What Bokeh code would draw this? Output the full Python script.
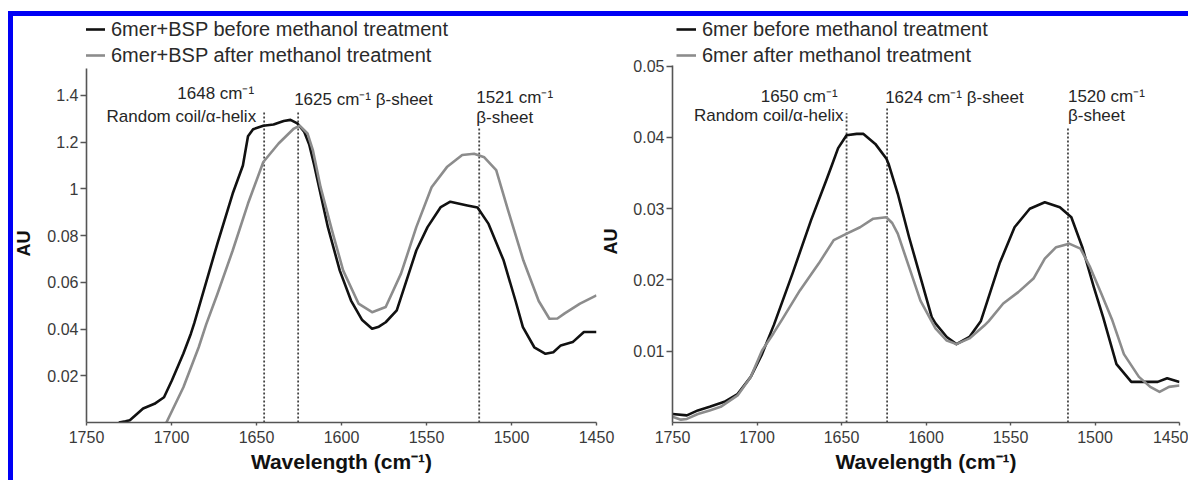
from bokeh.plotting import figure
from bokeh.models import Range1d, FixedTicker, Legend, LegendItem, Label, Div, Spacer, Title
from bokeh.layouts import row, column
from bokeh.embed import file_html
from bokeh.resources import INLINE

# ---------------- data ----------------
x_ticks = [1750, 1700, 1650, 1600, 1550, 1500, 1450]

# left panel: 6mer+BSP
left_ytick_values = [0.02, 0.04, 0.06, 0.08, 0.10, 0.12, 0.14]
left_ytick_labels = ["0.02", "0.04", "0.06", "0.08", "1", "1.2", "1.4"]

left_black_wn = [1731, 1727, 1724.5, 1716.7, 1710, 1704.4, 1699.8, 1693, 1688.6, 1686.6, 1673, 1664,
                 1658, 1655, 1652, 1646, 1640, 1634, 1630, 1626, 1622, 1619, 1616, 1614.5, 1608, 1601,
                 1594.4, 1588, 1582, 1578, 1574, 1567.5, 1556, 1549.4, 1541.6, 1536, 1530, 1526, 1520,
                 1513.5, 1504.6, 1497.6, 1493.3, 1486.6, 1480, 1475.4, 1471, 1464, 1457.4, 1450]
left_black_au = [0.0, 0.0005, 0.001, 0.006, 0.008, 0.0108, 0.018, 0.0295, 0.038, 0.0425, 0.0766, 0.098,
                 0.110, 0.1225, 0.1255, 0.127, 0.1275, 0.129, 0.1295, 0.128, 0.1245, 0.119, 0.110, 0.105,
                 0.0836, 0.065, 0.0522, 0.044, 0.0401, 0.041, 0.0429, 0.048, 0.0736, 0.0836, 0.0922,
                 0.0945, 0.0935, 0.0929, 0.0920, 0.085, 0.0693, 0.052, 0.0408, 0.0322, 0.0294, 0.0301,
                 0.033, 0.0344, 0.0387, 0.0387]

left_gray_wn = [1703, 1693, 1684, 1679.6, 1673, 1664, 1655, 1646, 1637, 1628, 1624.6, 1620, 1616.8,
                1612.3, 1605.6, 1599, 1590, 1582, 1574, 1565, 1556, 1547, 1538, 1529, 1522, 1516, 1509,
                1502, 1493, 1484, 1477.7, 1473, 1468.7, 1459.7, 1450]
left_gray_au = [0.0, 0.0151, 0.0322, 0.042, 0.055, 0.0736, 0.0937, 0.1115, 0.1194, 0.1258, 0.127,
                0.1237, 0.1164, 0.1007, 0.0822, 0.065, 0.0509, 0.0472, 0.0494, 0.0637, 0.0836, 0.1007,
                0.1093, 0.1145, 0.1150, 0.1135, 0.108, 0.0908, 0.0693, 0.052, 0.0444, 0.0445, 0.0467,
                0.0509, 0.0544]

left_series_names = ["6mer+BSP before methanol treatment", "6mer+BSP after methanol treatment"]
left_marks = [1645.5, 1625.5, 1519]
left_mark_tops = [0.1327, 0.1327, 0.1259]
left_ann_text = ["1648 cm\u207b\u00b9", "Random coil/\u03b1-helix", "1625 cm\u207b\u00b9 \u03b2-sheet",
                 "1521 cm\u207b\u00b9", "\u03b2-sheet"]
left_ann_wn = [1645.5, 1645.5, 1625.5, 1519, 1519]
left_ann_au = [0.1408, 0.1310, 0.1383, 0.1391, 0.1306]

# right panel: 6mer
right_ytick_values = [0.01, 0.02, 0.03, 0.04, 0.05]
right_ytick_labels = ["0.01", "0.02", "0.03", "0.04", "0.05"]

right_black_wn = [1750, 1741.5, 1735, 1728, 1719.3, 1711.5, 1703.7, 1697, 1690, 1679, 1668, 1659,
                  1655.7, 1652, 1647, 1641, 1637, 1630, 1623.4, 1622, 1616.7, 1610, 1603.3, 1596.6,
                  1594.4, 1587.7, 1582, 1574.3, 1567.6, 1556.5, 1547.6, 1538.6, 1529.7, 1520.8, 1514,
                  1507.5, 1500.7, 1495.2, 1487.3, 1478.5, 1469.5, 1462.9, 1457.3, 1450]
right_black_au = [0.0012, 0.0010, 0.0017, 0.0022, 0.0029, 0.0040, 0.0064, 0.0096, 0.0137, 0.0209,
                  0.0284, 0.0340, 0.0361, 0.0385, 0.0403, 0.0405, 0.0405, 0.0391, 0.0370, 0.0362,
                  0.0321, 0.0260, 0.0204, 0.0148, 0.0139, 0.0120, 0.0110, 0.0120, 0.0142, 0.0223,
                  0.0274, 0.0300, 0.0309, 0.0302, 0.0288, 0.0246, 0.0190, 0.0148, 0.0082, 0.0057,
                  0.0057, 0.0057, 0.0062, 0.0057]

right_gray_wn = [1750, 1745, 1741.5, 1735, 1728, 1721.5, 1711.5, 1703.7, 1697, 1690.3, 1685, 1674.7,
                 1663.5, 1654.6, 1646.9, 1639, 1631.2, 1623.5, 1620, 1616.7, 1610, 1603.3, 1594.4,
                 1587.7, 1582, 1574.3, 1565.5, 1563, 1554.3, 1545.4, 1536.4, 1529.7, 1523, 1515.3,
                 1508.6, 1502.9, 1496.3, 1490, 1482.9, 1474, 1467.3, 1461.8, 1456.2, 1450]
right_gray_au = [0.0008, 0.0004, 0.0005, 0.0012, 0.0017, 0.0022, 0.0038, 0.0064, 0.0101, 0.0125,
                 0.0145, 0.0185, 0.0223, 0.0256, 0.0265, 0.0274, 0.0286, 0.0288, 0.0280, 0.0265,
                 0.0218, 0.0171, 0.0132, 0.0115, 0.0110, 0.0118, 0.0136, 0.0142, 0.0167, 0.0183,
                 0.0202, 0.0230, 0.0246, 0.0251, 0.0244, 0.0218, 0.0181, 0.0145, 0.0096, 0.0064,
                 0.0050, 0.0043, 0.0050, 0.0052]

right_series_names = ["6mer before methanol treatment", "6mer after methanol treatment"]
right_marks = [1647, 1623, 1516]
right_mark_tops = [0.0434, 0.0441, 0.0414]
right_ann_text = ["1650 cm\u207b\u00b9", "Random coil/\u03b1-helix", "1624 cm\u207b\u00b9 \u03b2-sheet",
                  "1520 cm\u207b\u00b9", "\u03b2-sheet"]
right_ann_wn = [1647, 1647, 1623, 1516, 1516]
right_ann_au = [0.0458, 0.0431, 0.0456, 0.0458, 0.0431]

# ---------------- styling ----------------
FONT = "Liberation Sans"
BLACK = "#111111"
GRAY = "#8c8c8c"
AXIS = "#555555"
BLUE = "#0000f5"
H = 464          # canvas height
BOTTOM = 58      # space below the plotting frame
FRAME_H = H - BOTTOM


def make_panel(width, border_left, border_right, axis_top, axis_px, ytv, ytl, blk_x, blk_y, gry_x, gry_y,
               names, marks, tops, ann_text, ann_x, ann_y, ann_align, ann_off, legend_x,
               au_standoff, au_offset):
    # the frame fills the canvas up to its top edge so the legend stays inside it;
    # the y axis itself is bounded to [0, axis_top], which spans axis_px pixels
    y_top = axis_top * FRAME_H / axis_px
    p = figure(width=width, height=H, output_backend="svg", toolbar_location=None,
               x_range=Range1d(1750, 1450), y_range=Range1d(0, y_top),
               min_border_left=border_left, min_border_right=border_right,
               min_border_top=0, min_border_bottom=BOTTOM)
    p.border_fill_color = None
    p.background_fill_color = None
    p.outline_line_color = None
    p.grid.visible = False

    xa = p.xaxis[0]
    xa.ticker = FixedTicker(ticks=x_ticks)
    xa.axis_label = "Wavelength (cm\u207b\u00b9)"
    ya = p.yaxis[0]
    ya.ticker = FixedTicker(ticks=ytv)
    ya.major_label_overrides = {v: s for v, s in zip(ytv, ytl)}
    ya.bounds = (0, axis_top)
    for ax in (xa, ya):
        ax.axis_line_color = AXIS
        ax.axis_line_width = 1.6
        ax.major_tick_line_color = AXIS
        ax.major_tick_line_width = 1.4
        ax.major_tick_in = 0
        ax.minor_tick_line_color = None
        ax.major_label_text_font = FONT
        ax.major_label_text_font_size = "16px"
        ax.major_label_text_color = "#3a3a3a"
        ax.axis_label_text_font = FONT
        ax.axis_label_text_font_style = "bold"
        ax.axis_label_text_color = "#111111"
    xa.major_tick_out = 3
    xa.major_label_standoff = 5
    xa.axis_label_standoff = 4
    xa.axis_label_text_font_size = "21px"
    ya.major_tick_out = 6
    ya.major_label_standoff = 2

    # y-axis title, placed along the bounded axis (offset measured up from the frame bottom)
    p.add_layout(Title(text="AU", align="left", offset=au_offset, standoff=au_standoff,
                       text_font=FONT, text_font_size="18px", text_font_style="bold",
                       text_color="#111111"), "left")

    p.segment(x0=marks, y0=[0] * len(marks), x1=marks, y1=tops, line_color="#444444",
              line_width=1.8, line_dash="2 2")

    rb = p.line(blk_x, blk_y, line_color=BLACK, line_width=2.6, line_join="round")
    rg = p.line(gry_x, gry_y, line_color=GRAY, line_width=2.6, line_join="round")

    for t, x, y, al, off in zip(ann_text, ann_x, ann_y, ann_align, ann_off):
        p.add_layout(Label(x=x, y=y, text=t, x_offset=off, text_align=al, text_baseline="middle",
                           text_font=FONT, text_font_size="17px", text_color="#262626"))

    row_h = 26
    leg = Legend(items=[LegendItem(label=names[0], renderers=[rb]),
                        LegendItem(label=names[1], renderers=[rg])],
                 location=(legend_x, FRAME_H - 2 * row_h), orientation="vertical")
    leg.background_fill_alpha = 0
    leg.border_line_alpha = 0
    leg.padding = 0
    leg.margin = 0
    leg.spacing = 0
    leg.glyph_width = 20
    leg.glyph_height = row_h
    leg.label_height = row_h
    leg.label_standoff = 6
    leg.label_text_font = FONT
    leg.label_text_font_size = "20px"
    leg.label_text_color = "#2a2a2a"
    p.add_layout(leg)
    return p


p1 = make_panel(633, 83, 37, 0.1515, 354, left_ytick_values, left_ytick_labels,
                left_black_wn, left_black_au, left_gray_wn, left_gray_au, left_series_names,
                left_marks, left_mark_tops, left_ann_text, left_ann_wn, left_ann_au,
                ["right", "right", "left", "left", "left"], [-10, -8, -4, -3, -3], -1, 22, 166)
p1.margin = (0, 0, 0, -13)

p2 = make_panel(599, 78, 9, 0.0501, 357, right_ytick_values, right_ytick_labels,
                right_black_wn, right_black_au, right_gray_wn, right_gray_au, right_series_names,
                right_marks, right_mark_tops, right_ann_text, right_ann_wn, right_ann_au,
                ["right", "right", "left", "left", "left"], [-9, -3, -2, 0, 0], 4, 19, 168)
p2.margin = (0, 0, 0, -44)

top_gap = Spacer(width=1188, height=11, margin=0)
top_bar = row(Spacer(width=8, height=5, margin=0),
              Div(text="", width=1180, height=5, margin=0, styles={"background-color": BLUE}),
              spacing=0)
left_pad = Spacer(width=8, height=H, margin=0)
left_bar = Div(text="", width=5, height=H, margin=0, styles={"background-color": BLUE})

layout = column(top_gap, top_bar, row(left_pad, left_bar, p1, p2, spacing=0), spacing=0)

open("out.html", "w").write(file_html(layout, INLINE))
